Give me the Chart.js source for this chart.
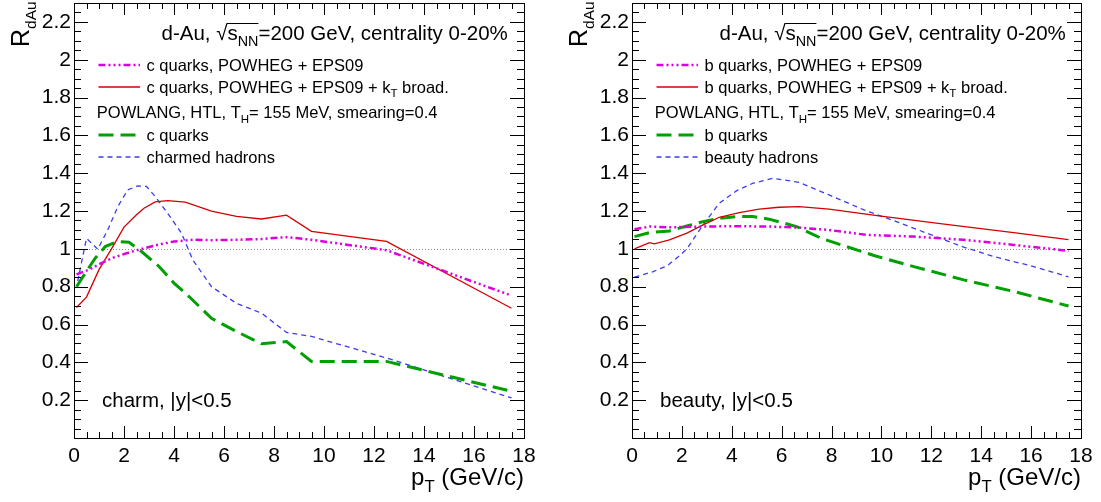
<!DOCTYPE html>
<html>
<head>
<meta charset="utf-8">
<script src="https://cdn.jsdelivr.net/npm/chart.js@4.4.0/dist/chart.umd.min.js"></script>
<style>
body{margin:0;background:#fff;}
#wrap{position:relative;width:1101px;height:502px;}
.panel{position:absolute;top:0;height:502px;}
</style>
</head>
<body>
<div id="wrap">
  <div class="panel" style="left:0;width:550px"><canvas id="charm" width="550" height="502"></canvas></div>
  <div class="panel" style="left:550px;width:551px"><canvas id="beauty" width="551" height="502"></canvas></div>
</div>
<script>
// ---- charm panel (left) ----
let cPowhegPt = [0.1,0.6,1.1,1.6,2.3,2.8,3.5,4.0,4.75,5.5,6.5,7.5,8.5,9.5,12.5,17.5];
let cPowheg   = [0.865,0.89,0.925,0.955,0.985,1.003,1.026,1.039,1.048,1.046,1.048,1.052,1.062,1.048,0.993,0.753];
let cKtPt = [0.1,0.5,1.0,1.5,2.0,2.5,2.8,3.25,3.75,4.45,5.5,6.5,7.5,8.5,9.5,12.5,17.5];
let cKt   = [0.69,0.745,0.89,1.0,1.115,1.18,1.215,1.248,1.255,1.247,1.2,1.172,1.158,1.178,1.093,1.04,0.686];
let cQuarkPt = [0.1,0.45,0.85,1.25,1.75,2.2,2.7,3.4,4.0,4.6,5.5,6.5,7.5,8.5,9.5,12.5,17.5];
let cQuark   = [0.8,0.872,0.951,1.012,1.039,1.035,0.986,0.907,0.819,0.748,0.633,0.563,0.498,0.51,0.405,0.405,0.247];
let cHadronPt = [0.15,0.5,0.95,1.35,1.75,2.15,2.55,2.9,3.25,3.75,4.3,4.75,5.5,6.5,7.5,8.5,9.5,12.5,17.5];
let cHadron   = [0.83,1.056,0.998,1.1,1.223,1.312,1.333,1.33,1.276,1.188,1.083,0.942,0.8,0.712,0.66,0.558,0.537,0.423,0.212];

// ---- beauty panel (right) ----
let bPowhegPt = [0.1,0.7,1.5,2.85,4.2,5.5,6.6,7.9,9.4,11.3,13.3,15.3,17.5];
let bPowheg   = [1.104,1.118,1.114,1.118,1.12,1.118,1.113,1.1,1.074,1.065,1.048,1.021,0.99];
let bKtPt = [0.1,0.7,0.9,1.5,2.2,2.85,3.5,4.3,5.1,5.9,6.7,7.9,9.9,12.6,15.3,17.5];
let bKt   = [1.0,1.033,1.027,1.047,1.083,1.127,1.167,1.192,1.21,1.22,1.223,1.21,1.175,1.13,1.086,1.049];
let bQuarkPt = [0.1,0.7,1.5,2.2,2.85,3.5,4.2,4.85,5.5,6.6,7.6,8.6,9.7,11.3,13.3,15.3,17.5];
let bQuark   = [1.065,1.086,1.095,1.121,1.144,1.162,1.171,1.171,1.157,1.118,1.055,1.012,0.965,0.906,0.836,0.775,0.698];
let bHadronPt = [0.1,0.85,1.4,1.9,2.2,2.85,3.5,4.2,4.85,5.65,6.7,7.9,9.3,10.6,12.0,13.3,14.6,16.0,17.5];
let bHadron   = [0.85,0.88,0.91,0.963,1.0,1.127,1.241,1.308,1.347,1.373,1.352,1.285,1.206,1.144,1.074,1.009,0.956,0.91,0.852];

let xTicks = [0,2,4,6,8,10,12,14,16,18];
let yTicks = [0.2,0.4,0.6,0.8,1,1.2,1.4,1.6,1.8,2,2.2];

const FAM = '"Liberation Sans", Arial, sans-serif';
const MAGENTA = "#dd00dd", RED = "#d40000", GREEN = "#00a000", BLUE = "#3c3cf0";
const DASH_MAG = [7,3,2,3,2,3,2,3], DASH_GREEN = [15,7], DASH_BLUE = [5,4];

function series(pt, val) { return pt.map((x, i) => ({x: x, y: val[i]})); }

function font(size) { return size + "px " + FAM; }

// draws text; parts given as ['x'] are subscripts
function rich(ctx, parts, x, y, size) {
  let cx = x;
  for (const p of parts) {
    const sub = Array.isArray(p);
    const t = sub ? p[0] : p;
    ctx.font = font(sub ? size * 0.7 : size);
    ctx.fillText(t, cx, y + (sub ? size * 0.3 : 0));
    cx += ctx.measureText(t).width;
  }
  return cx;
}
function richWidth(ctx, parts, size) {
  let w = 0;
  for (const p of parts) {
    const sub = Array.isArray(p);
    ctx.font = font(sub ? size * 0.7 : size);
    w += ctx.measureText(sub ? p[0] : p).width;
  }
  return w;
}

const decor = {
  id: "decor",
  beforeDatasetsDraw(chart) {
    const {ctx, chartArea: a} = chart;
    const py = Math.round(chart.scales.y.getPixelForValue(1)) + 0.5;
    ctx.save();
    ctx.strokeStyle = "#888"; ctx.lineWidth = 1; ctx.setLineDash([1,2]);
    ctx.beginPath(); ctx.moveTo(a.left, py); ctx.lineTo(a.right, py); ctx.stroke();
    ctx.restore();
  },
  afterDraw(chart, args, o) {
    const {ctx, chartArea: a} = chart;
    const xs = chart.scales.x, ys = chart.scales.y;
    const L = a.left;
    ctx.save();
    // frame + ticks on all four sides
    ctx.strokeStyle = "#000"; ctx.lineWidth = 1;
    ctx.strokeRect(Math.round(a.left) + 0.5, Math.round(a.top) + 0.5, Math.round(a.right - a.left), Math.round(a.bottom - a.top));
    ctx.beginPath();
    for (let k = 1; k < 36; k++) {
      const px = Math.round(xs.getPixelForValue(k * 0.5)) + 0.5;
      const len = k % 4 === 0 ? 12 : 6;
      ctx.moveTo(px, a.bottom); ctx.lineTo(px, a.bottom - len);
      ctx.moveTo(px, a.top); ctx.lineTo(px, a.top + len);
    }
    for (let k = 1; k < 46; k++) {
      const py = Math.round(ys.getPixelForValue(k * 0.05)) + 0.5;
      const len = k % 4 === 0 ? 14 : 7;
      ctx.moveTo(a.left, py); ctx.lineTo(a.left + len, py);
      ctx.moveTo(a.right, py); ctx.lineTo(a.right - len, py);
    }
    ctx.stroke();

    ctx.fillStyle = "#000";
    ctx.textBaseline = "alphabetic";
    ctx.textAlign = "left";

    // header with sqrt(s_NN)
    const hs = 20.5;
    let cx = rich(ctx, ["d-Au, "], L + 87.5, 40, hs);
    cx = rich(ctx, ["\u221A"], cx, 40, hs);
    const ox = cx;
    cx = rich(ctx, ["s", ["NN"]], cx, 40, hs);
    ctx.beginPath(); ctx.moveTo(ox - 1, 23.5); ctx.lineTo(cx, 23.5); ctx.stroke();
    rich(ctx, ["=200 GeV, centrality 0-20%"], cx, 40, hs);

    // legend
    const ls = 16.5;
    const entries = [
      {y: 65, color: MAGENTA, w: 2.5, dash: DASH_MAG, text: [o.q + " quarks, POWHEG + EPS09"]},
      {y: 87, color: RED, w: 1.3, dash: [], text: [o.q + " quarks, POWHEG + EPS09 + k", ["T"], " broad."]},
      {y: 135, color: GREEN, w: 3, dash: DASH_GREEN, text: [o.q + " quarks"]},
      {y: 157, color: BLUE, w: 1.3, dash: DASH_BLUE, text: [o.hadrons]}
    ];
    for (const e of entries) {
      ctx.save();
      ctx.strokeStyle = e.color; ctx.lineWidth = e.w; ctx.setLineDash(e.dash);
      ctx.beginPath(); ctx.moveTo(L + 24.5, e.y); ctx.lineTo(L + 66, e.y); ctx.stroke();
      ctx.restore();
      rich(ctx, e.text, L + 72.5, e.y + 5.5, ls);
    }
    rich(ctx, ["POWLANG, HTL, T", ["H"], "= 155 MeV, smearing=0.4"], L + 22.8, 118, ls);

    // panel label
    rich(ctx, [o.label], L + 28, 406.5, 20.5);

    // x title
    const xt = ["p", ["T"], " (GeV/c)"];
    rich(ctx, xt, a.right - richWidth(ctx, xt, 24), 485, 24);

    // y title, rotated
    ctx.translate(L - 45.5, 47);
    ctx.rotate(-Math.PI / 2);
    ctx.font = font(25);
    ctx.fillText("R", 0, 0);
    const rw = ctx.measureText("R").width;
    ctx.font = font(15.5);
    ctx.fillText("dAu", rw, 7);
    ctx.restore();
  }
};

function noPad(s) { s.paddingTop = 0; s.paddingBottom = 0; s.paddingLeft = 0; s.paddingRight = 0; }

function makeChart(id, sets, o, yWidth, padRight) {
  return new Chart(document.getElementById(id), {
    type: "line",
    data: {
      datasets: [
        {data: series(sets[0][0], sets[0][1]), borderColor: MAGENTA, borderWidth: 2.5, borderDash: DASH_MAG},
        {data: series(sets[1][0], sets[1][1]), borderColor: RED, borderWidth: 1.3},
        {data: series(sets[2][0], sets[2][1]), borderColor: GREEN, borderWidth: 3, borderDash: DASH_GREEN},
        {data: series(sets[3][0], sets[3][1]), borderColor: BLUE, borderWidth: 1.3, borderDash: DASH_BLUE}
      ]
    },
    options: {
      responsive: false,
      animation: false,
      events: [],
      layout: {padding: {top: 3, right: padRight, left: 0, bottom: 0}},
      elements: {point: {radius: 0}, line: {tension: 0, fill: false}},
      plugins: {legend: {display: false}, tooltip: {enabled: false}, decor: o},
      scales: {
        x: {
          type: "linear", min: 0, max: 18,
          grid: {display: false, drawTicks: false}, border: {display: false},
          afterBuildTicks(s) { s.ticks = xTicks.map(v => ({value: v})); },
          ticks: {font: {family: FAM, size: 21}, color: "#000", padding: 6, maxRotation: 0, autoSkip: false},
          afterFit(s) { s.height = 64; noPad(s); }
        },
        y: {
          min: 0, max: 2.3,
          grid: {display: false, drawTicks: false}, border: {display: false},
          afterBuildTicks(s) { s.ticks = yTicks.map(v => ({value: v})); },
          ticks: {font: {family: FAM, size: 21}, color: "#000", padding: 3, autoSkip: false,
                  callback: v => String(+Number(v).toFixed(1))},
          afterFit(s) { s.width = yWidth; noPad(s); }
        }
      }
    },
    plugins: [decor]
  });
}

makeChart("charm",
  [[cPowhegPt, cPowheg], [cKtPt, cKt], [cQuarkPt, cQuark], [cHadronPt, cHadron]],
  {q: "c", hadrons: "charmed hadrons", label: "charm, |y|<0.5"}, 74, 26);
makeChart("beauty",
  [[bPowhegPt, bPowheg], [bKtPt, bKt], [bQuarkPt, bQuark], [bHadronPt, bHadron]],
  {q: "b", hadrons: "beauty hadrons", label: "beauty, |y|<0.5"}, 82, 20);
</script>
</body>
</html>
